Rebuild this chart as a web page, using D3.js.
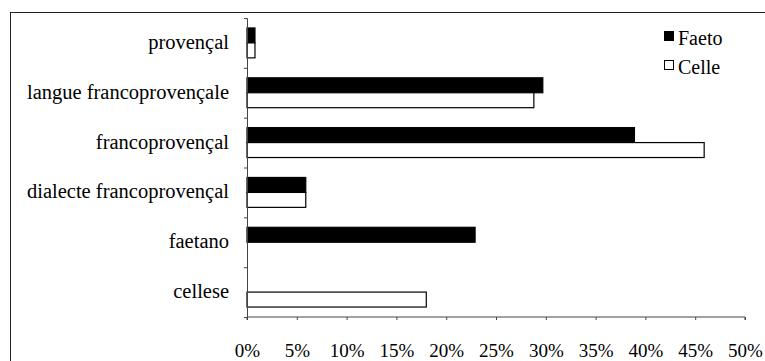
<!DOCTYPE html>
<html>
<head>
<meta charset="utf-8">
<script src="https://cdn.jsdelivr.net/npm/d3@7"></script>
<style>
  body { margin: 0; background: #fff; }
  svg text { font-family: "Liberation Serif", "Times New Roman", serif; }
</style>
</head>
<body>
<svg id="chart" width="765" height="361"></svg>
<script>
// =========================
// DADES
// =========================
const categories = ["provençal", "langue francoprovençale", "francoprovençal",
  "dialecte francoprovençal", "faetano", "cellese"];
const seriesNames = ["Faeto", "Celle"];
const faetoValues = [0.8, 29.7, 38.9, 5.9, 22.9, 0];
const celleValues = [0.8, 28.8, 45.9, 5.9, 0, 18.0];
const xTicks = [0, 5, 10, 15, 20, 25, 30, 35, 40, 45, 50];

const rows = categories.map((c, i) => ({ cat: c, Faeto: faetoValues[i], Celle: celleValues[i] }));
const fills = { Faeto: "#000", Celle: "#fff" };

// =========================
// ESCALES
// =========================
const svg = d3.select("#chart");
const plotLeft = 247, plotRight = 745, plotTop = 18, plotBottom = 317;

const x = d3.scaleLinear().domain([0, 50]).range([plotLeft, plotRight]);
const y = d3.scaleBand().domain(categories).range([plotTop, plotBottom])
  .paddingInner(0.4).paddingOuter(0.2);
const ySub = d3.scaleBand().domain(seriesNames).range([0, y.bandwidth()]);

// marc
svg.append("rect")
  .attr("x", 10.5).attr("y", 12.5)
  .attr("width", 800).attr("height", 400)
  .attr("fill", "none").attr("stroke", "#222").attr("stroke-width", 1);

// =========================
// BARRES
// =========================
const groups = svg.selectAll(".grp")
  .data(rows)
  .enter().append("g")
  .attr("transform", d => `translate(0,${y(d.cat)})`);

groups.selectAll("rect")
  .data(d => seriesNames.map(s => ({ s, v: d[s] })).filter(e => e.v > 0))
  .enter().append("rect")
  .attr("x", x(0))
  .attr("y", d => ySub(d.s))
  .attr("width", d => x(d.v) - x(0))
  .attr("height", ySub.bandwidth())
  .attr("fill", d => fills[d.s])
  .attr("stroke", "#000")
  .attr("stroke-width", 1.2);

// =========================
// EIXOS
// =========================
const yAxisScale = d3.scaleLinear().domain([0, categories.length]).range([plotTop, plotBottom]);
const gy = svg.append("g").attr("transform", `translate(${plotLeft},0)`)
  .call(d3.axisLeft(yAxisScale).tickValues(d3.range(categories.length + 1))
    .tickSize(3).tickFormat(""));
gy.selectAll("path, line").attr("stroke", "#444");

svg.append("g").selectAll("text")
  .data(categories)
  .enter().append("text")
  .attr("x", 229)
  .attr("y", d => y(d) + y.bandwidth() / 2 + 6)
  .attr("text-anchor", "end")
  .attr("font-family", "Liberation Serif")
  .style("font-size", "20.5px")
  .text(d => d);

const gx = svg.append("g").attr("transform", `translate(0,${plotBottom})`)
  .call(d3.axisBottom(x).tickValues(xTicks).tickSize(3).tickPadding(24)
    .tickFormat(d => d + "%"));
gx.attr("font-family", "Liberation Serif");
gx.selectAll("path, line").attr("stroke", "#444");
gx.selectAll("text")
  .style("font-size", "19px")
  .attr("fill", "#000");
gx.select(".domain").attr("d", `M${plotLeft},3V0H${plotRight}V3`);

// =========================
// LLEGENDA
// =========================
const legend = svg.append("g").attr("transform", "translate(664,31)");
seriesNames.forEach((s, i) => {
  legend.append("rect")
    .attr("x", 0.5).attr("y", i * 29 + 0.5)
    .attr("width", 9).attr("height", 9)
    .attr("fill", fills[s]).attr("stroke", "#000");
  legend.append("text")
    .attr("x", 14).attr("y", i * 29 + 14)
    .style("font-size", "20px")
    .text(s);
});
</script>
</body>
</html>
